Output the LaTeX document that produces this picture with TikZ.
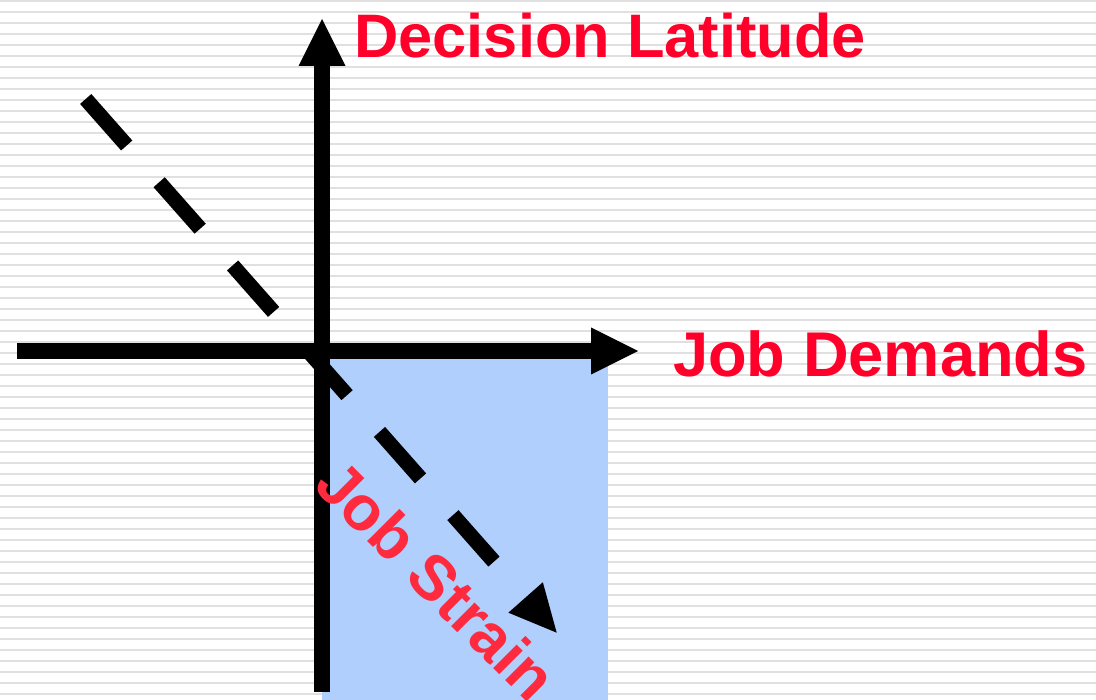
\documentclass[tikz,border=0pt]{standalone}
\usepackage{fontspec}
\setmainfont{Liberation Sans}
\usepackage{tikz}
\usetikzlibrary{arrows.meta}

\definecolor{labelred}{RGB}{255,0,42}
\definecolor{strainred}{RGB}{255,42,62}
\definecolor{stripegray}{RGB}{224,224,224}
\definecolor{strainblue}{RGB}{176,207,252}

\tikzset{
  axis/.style={line width=15.5pt, -{Triangle[length=47pt, width=47pt, line width=0pt]}},
  strain line/.style={line width=15pt, dash pattern=on 62pt off 49pt,
    -{Triangle[length=47pt, width=46pt, line width=0pt]}},
  big label/.style={inner sep=0pt, font=\fontsize{#1}{70}\selectfont\bfseries},
  big label/.default=62
}

\begin{document}
\begin{tikzpicture}[x=1pt, y=-1pt]
    \useasboundingbox (0,0) rectangle (1096,700);
    \fill[white] (0,0) rectangle (1096,700);

    % stripes
    \foreach \k in {0,...,63}
    \fill[stripegray] (0,{11*\k}) rectangle (1096,{11*\k+2});

    \fill[strainblue] (322,351) rectangle (608,700);

    \coordinate (o 1) at (17,351);
    \coordinate (o 2) at (638,351);
    \coordinate (o 3) at (322,692);
    \coordinate (o 4) at (322,19);
    \coordinate (s 1) at (85.7,99);
    \coordinate (s 2) at (556.7,632.7);

    \draw[strain line] (s 1) -- (s 2);
    \draw[axis] (o 1) -- (o 2);
    \draw[axis] (o 3) -- (o 4);

    \node[big label=61.4, text=labelred, anchor=base west] at (354,57.3) (dl) {Decision Latitude};
    \node[big label=63.2, text=labelred, anchor=base west] at (673,376.7) (jd) {Job Demands};
    \node[big label=63, text=strainred, rotate=-45] at (437,580) (js) {Job Strain};
\end{tikzpicture}
\end{document}
